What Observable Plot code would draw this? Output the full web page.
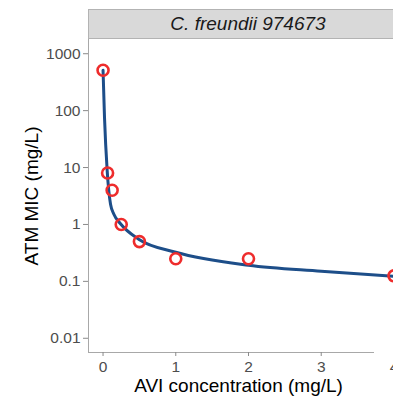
<!DOCTYPE html>
<html><head><meta charset="utf-8">
<script src="https://cdn.jsdelivr.net/npm/d3@7"></script>
<script src="https://cdn.jsdelivr.net/npm/@observablehq/plot@0.6"></script>
<style>
html,body{margin:0;padding:0;width:393px;height:397px;overflow:hidden;background:#fff;}
#strip{margin:9px 0 0 88px;width:320px;height:30px;box-sizing:border-box;border:1px solid #b3b3b3;background:#d9d9d9;font:italic 19px "Liberation Sans",Arial,sans-serif;color:#1a1a1a;text-align:center;line-height:28px;white-space:nowrap;}
#chart svg{overflow:hidden;}
</style></head><body>
<div id="strip"></div>
<div id="chart"></div>
<script>
const panelTitle = "C. freundii 974673";
const xTitle = "AVI concentration (mg/L)";
const yTitle = "ATM MIC (mg/L)";
const obsConc = [0, 0.0625, 0.125, 0.25, 0.5, 1, 2, 4];
const obsMic = [512, 8, 4, 1, 0.5, 0.25, 0.25, 0.125];
const fitConc = [0, 0.02, 0.057, 0.103, 0.149, 0.24, 0.49, 1, 2, 3, 4];
const fitMic = [512, 76, 8.75, 2.26, 1.51, 1.03, 0.55, 0.325, 0.192, 0.151, 0.123];
const yTicks = [0.01, 0.1, 1, 10, 100, 1000];
const yTickLabels = ["0.01", "0.1", "1", "10", "100", "1000"];
const xTicks = [0, 1, 2, 3, 4];
const xTickLabels = ["0", "1", "2", "3", "4"];

document.getElementById("strip").textContent = panelTitle;

const obs = obsConc.map((x, i) => ({x, y: obsMic[i]}));
const fit = fitConc.map((x, i) => ({x, y: fitMic[i]}));

const chart = Plot.plot({
  width: 393,
  height: 358,
  marginTop: 0,
  marginLeft: 88,
  marginBottom: 45,
  style: {fontFamily: "'Liberation Sans', Arial, sans-serif", background: "#fff"},
  x: {domain: [-0.2, 4.2], range: [88, 408]},
  y: {type: "log", domain: [Math.pow(10, -2.25), Math.pow(10, 3.25)]},
  marks: [
    Plot.frame({anchor: "left", stroke: "#a8a8a8"}),
    Plot.frame({anchor: "bottom", stroke: "#a8a8a8"}),
    Plot.axisY({ticks: yTicks, tickFormat: d => yTickLabels[yTicks.indexOf(d)], tickSize: 5, tickPadding: 3, fontSize: 15.5, stroke: "#8a8a8a", fill: "#4d4d4d", label: null}),
    Plot.axisX({ticks: xTicks, tickFormat: d => xTickLabels[xTicks.indexOf(d)], tickSize: 4, tickPadding: 4, fontSize: 15.5, stroke: "#8a8a8a", fill: "#4d4d4d", label: null}),
    Plot.line(fit, {x: "x", y: "y", curve: "monotone-x", stroke: "#1d4e89", strokeWidth: 3}),
    Plot.dot(obs, {x: "x", y: "y", r: 5.5, stroke: "#ee2c2c", strokeWidth: 2.6, fill: "none"}),
    Plot.text([yTitle], {frameAnchor: "left", rotate: -90, dx: -57, fontSize: 19, fill: "#000", textAnchor: "middle", lineAnchor: "middle"}),
    Plot.text([xTitle], {frameAnchor: "bottom", dx: 7.5, dy: 33.5, fontSize: 19, fill: "#000", textAnchor: "middle", lineAnchor: "middle"})
  ]
});
document.getElementById("chart").appendChild(chart);
</script>
</body></html>
